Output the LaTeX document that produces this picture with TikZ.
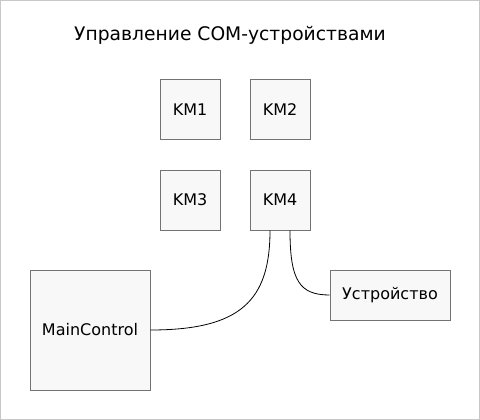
\documentclass[tikz,border=0pt]{standalone}
\usepackage{fontspec}
\setmainfont{DejaVu Sans}
\usepackage{xcolor}
\usepackage{tikz}
\usetikzlibrary{positioning,calc}
\definecolor{boxbg}{RGB}{248,248,248}
\definecolor{boxline}{RGB}{115,115,115}
\definecolor{framegray}{RGB}{200,200,200}

\begin{document}
\begin{tikzpicture}[x=1pt, y=-1pt,
    unit/.style={draw=boxline, fill=boxbg, line width=1pt, inner sep=0pt,
        font=\fontsize{16}{18}\selectfont},
    link/.style={black, line width=0.8pt}]
    % Frame
    \useasboundingbox (0,0) rectangle (480,420);
    \draw[framegray, line width=1pt] (0.5,0.5) rectangle (479.5,419.5);

    % Title
    \node[font=\fontsize{18.7}{21}\selectfont] (title) at (230,35) {Управление COM-устройствами};

    % COM ports
    \foreach \name/\x/\y in {KM1/190/110, KM2/280/110, KM3/190/200, KM4/280/200} {
        \node[unit, minimum width=60pt, minimum height=60pt] (\name) at (\x,\y) {\name};
    }

    % Controller and device
    \node[unit, minimum width=120pt, minimum height=120pt] (main) at (90,330) {MainControl};
    \node[unit, minimum width=120pt, minimum height=50pt] (dev) at (390,295) {Устройство};

    % Links
    \draw[link] ([xshift=-10pt]KM4.south) .. controls +(0,70) and +(90,0) .. (main.east);
    \draw[link] ([xshift=10pt]KM4.south) .. controls +(0,50) and +(-30,0) .. (dev.west);
\end{tikzpicture}
\end{document}
